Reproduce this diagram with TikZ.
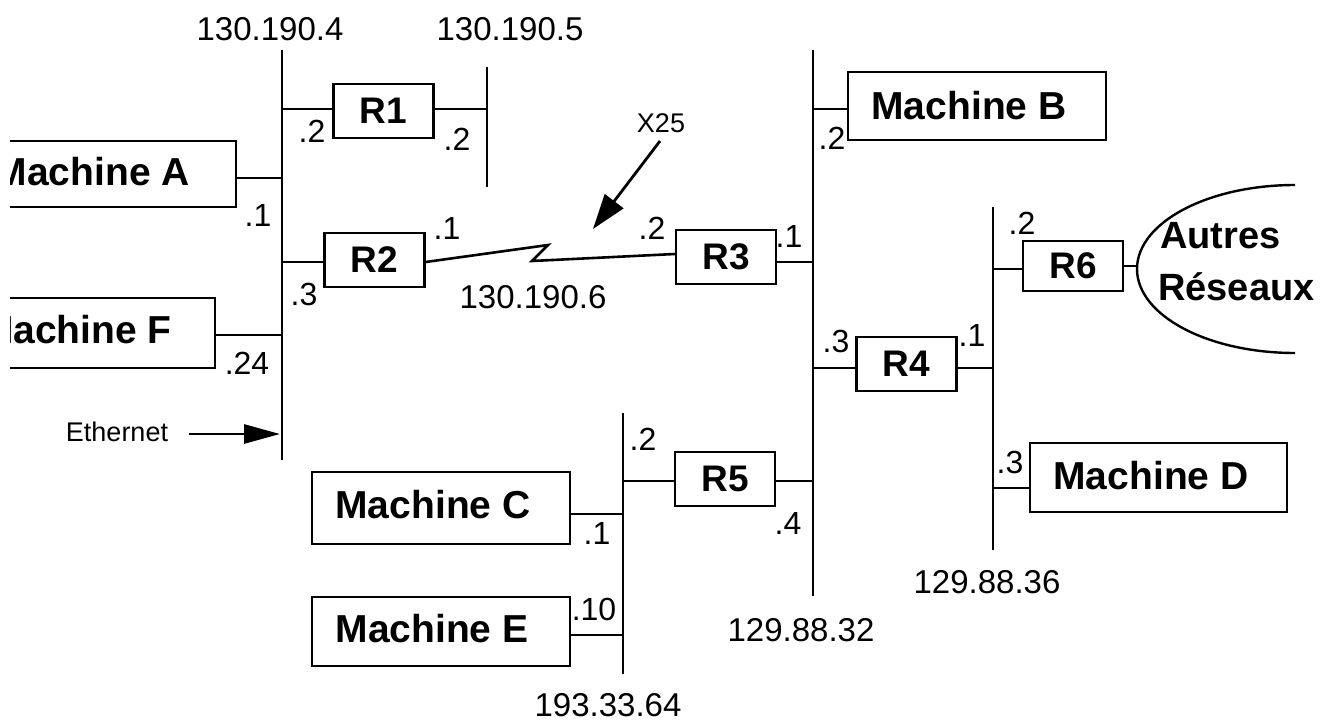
\documentclass[tikz,border=0pt]{standalone}
\usepackage{fontspec}
\setmainfont{Liberation Sans}
\usetikzlibrary{arrows.meta}
\begin{document}
\begin{tikzpicture}[x=1pt,y=-1pt,
 bus/.style={line width=2.8pt},
 wire/.style={line width=2.8pt},
 box/.style={draw, line width=2.4pt, inner sep=0pt},
 rbox/.style={box, minimum width=100pt, minimum height=54pt, font=\fontsize{37}{40}\selectfont\bfseries},
 mname/.style={inner sep=0pt, font=\fontsize{39}{42}\selectfont\bfseries},
 oname/.style={inner sep=0pt, font=\fontsize{38}{42}\selectfont\bfseries},
 net/.style={inner sep=0pt, font=\fontsize{33}{36}\selectfont},
 port/.style={inner sep=0pt, font=\fontsize{32}{34}\selectfont},
 small/.style={inner sep=0pt, font=\fontsize{27}{30}\selectfont}]
\useasboundingbox (0,0) rectangle (1330,725);
\begin{scope}
\clip (10,-5) rectangle (1335,730);
% buses
\coordinate (b1t) at (282,50);  \coordinate (b1b) at (282,460);
\coordinate (b2t) at (487,67);  \coordinate (b2b) at (487,187);
\coordinate (b3t) at (813,50);  \coordinate (b3b) at (813,596);
\coordinate (b4t) at (993,207); \coordinate (b4b) at (993,550);
\coordinate (b5t) at (623,413); \coordinate (b5b) at (623,674);
\draw[bus] (b1t) -- (b1b);
\draw[bus] (b2t) -- (b2b);
\draw[bus] (b3t) -- (b3b);
\draw[bus] (b4t) -- (b4b);
\draw[bus] (b5t) -- (b5b);
% machines
\node[box, minimum width=316pt, minimum height=66pt] (mA) at (78,174) {};
\node[mname, anchor=east] (mAt) at (190,172) {Machine A};
\node[box, minimum width=295pt, minimum height=70pt] (mF) at (67.5,333) {};
\node[mname, anchor=east] (mFt) at (172,330) {Machine F};
\node[box, minimum width=258pt, minimum height=68pt] (mB) at (977,106) {};
\node[mname] (mBt) at (969,106) {Machine B};
\node[box, minimum width=258pt, minimum height=72pt] (mC) at (441,508) {};
\node[mname] (mCt) at (433,505) {Machine C};
\node[box, minimum width=258pt, minimum height=69pt] (mE) at (441,631.5) {};
\node[mname] (mEt) at (432,629) {Machine E};
\node[box, minimum width=257pt, minimum height=69pt] (mD) at (1158.5,477.5) {};
\node[mname] (mDt) at (1151,476) {Machine D};
% routers
\node[rbox] (R1) at (383.5,111) {R1};
\node[rbox] (R2) at (374.5,260) {R2};
\node[rbox] (R3) at (726,257) {R3};
\node[rbox] (R4) at (906.5,364) {R4};
\node[rbox] (R5) at (725,479) {R5};
\node[rbox, minimum height=50pt] (R6) at (1073,266) {R6};
% connection points on buses
\coordinate (pA) at (282,178);
\coordinate (pF) at (282,335);
\coordinate (p1r) at (282,109);
\coordinate (p2r) at (487,109);
\coordinate (p1q) at (282,262);
\coordinate (pB) at (813,109);
\coordinate (p3r3) at (813,262);
\coordinate (p3r4) at (813,368);
\coordinate (p3r5) at (813,481);
\coordinate (p4r4) at (993,368);
\coordinate (p4r6) at (993,269);
\coordinate (pD) at (993,488);
\coordinate (p5r5) at (623,481);
\coordinate (pC) at (623,514);
\coordinate (pE) at (623,635);
\draw[wire] (pA) -- (pA -| mA.east);
\draw[wire] (pF) -- (pF -| mF.east);
\draw[wire] (p1r) -- (p1r -| R1.west);
\draw[wire] (p2r) -- (p2r -| R1.east);
\draw[wire] (p1q) -- (p1q -| R2.west);
\draw[wire] (pB) -- (pB -| mB.west);
\draw[wire] (p3r3) -- (p3r3 -| R3.east);
\draw[wire] (p3r4) -- (p3r4 -| R4.west);
\draw[wire] (p4r4) -- (p4r4 -| R4.east);
\draw[wire] (p4r6) -- (p4r6 -| R6.west);
\draw[wire] (pD) -- (pD -| mD.west);
\draw[wire] (p3r5) -- (p3r5 -| R5.east);
\draw[wire] (p5r5) -- (p5r5 -| R5.west);
\draw[wire] (pC) -- (pC -| mC.east);
\draw[wire] (pE) -- (pE -| mE.east);
% X25 zigzag link
\coordinate (z1) at (548,245);
\coordinate (z2) at (532,261);
\draw[line width=2.6pt, line join=miter] ([yshift=-2pt]R2.east) -- (z1) -- (z2) -- ([yshift=3pt]R3.west);
% other networks
\coordinate (ell) at (1295,185);
\draw[line width=2.4pt] (ell) arc[start angle=90, end angle=270, x radius=158pt, y radius=84pt];
\draw[wire] (R6.east) -- ++(14,0);
\node[oname, anchor=west] (aut) at (1160,236) {Autres};
\node[oname, anchor=west] (res) at (1158,287) {Réseaux};
% X25 label and arrow
\node[small] (x25) at (661,123) {X25};
\coordinate (x25tip) at (593,229);
\draw[line width=2.8pt, -{Triangle[length=35pt,width=23pt]}] (660,141) -- (x25tip);
% Ethernet label and arrow
\node[small] (eth) at (117,432) {Ethernet};
\coordinate (ethtip) at (280,434);
\draw[line width=2.8pt, -{Triangle[length=36pt,width=19pt]}] (189,434) -- (ethtip);
% network labels
\node[net] at (270,29) {130.190.4};
\node[net] at (510,29) {130.190.5};
\node[net] at (533,297) {130.190.6};
\node[net] at (801,630) {129.88.32};
\node[net] at (987,582) {129.88.36};
\node[net] at (608,705) {193.33.64};
% port labels
\node[port] at (312,131) {.2};
\node[port] at (457,139) {.2};
\node[port] at (258,215) {.1};
\node[port] at (447,228) {.1};
\node[port] at (304,294) {.3};
\node[port] at (247,363) {.24};
\node[port] at (652,228) {.2};
\node[port] at (789,236) {.1};
\node[port] at (832,138) {.2};
\node[port] at (836,341) {.3};
\node[port] at (972,335) {.1};
\node[port] at (1022,223) {.2};
\node[port] at (1010,462) {.3};
\node[port] at (643,439) {.2};
\node[port] at (597,533) {.1};
\node[port] at (594,609) {.10};
\node[port] at (788,523) {.4};
\end{scope}
\end{tikzpicture}
\end{document}
